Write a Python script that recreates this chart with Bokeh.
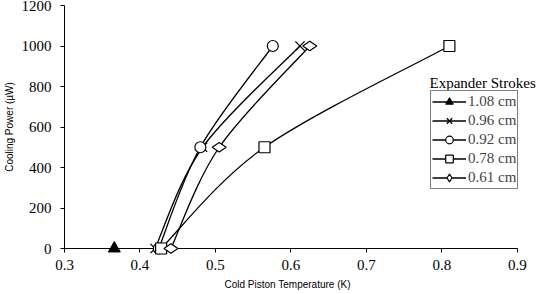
from bokeh.plotting import figure
from bokeh.models import ColumnDataSource, Legend, LegendItem, Label, FixedTicker, Title
from bokeh.embed import file_html
from bokeh.resources import INLINE

# ---- data ----
labels = ["1.08 cm", "0.96 cm", "0.92 cm", "0.78 cm", "0.61 cm"]
temp_108 = [0.366]
power_108 = [0]
temp_096 = [0.420, 0.483, 0.612]
power_096 = [0, 500, 1000]
temp_092 = [0.425, 0.480, 0.576]
power_092 = [0, 500, 1000]
temp_078 = [0.428, 0.565, 0.810]
power_078 = [0, 500, 1000]
temp_061 = [0.441, 0.505, 0.625]
power_061 = [0, 500, 1000]
x_ticks = [0.3, 0.4, 0.5, 0.6, 0.7, 0.8, 0.9]
y_ticks = [0, 200, 400, 600, 800, 1000, 1200]

series = [
    (labels[0], temp_108, power_108, "triangle"),
    (labels[1], temp_096, power_096, "x"),
    (labels[2], temp_092, power_092, "circle"),
    (labels[3], temp_078, power_078, "square"),
    (labels[4], temp_061, power_061, "diamond"),
]

SERIF = "Liberation Serif"
SANS = "Liberation Sans"

# frame extends past the axis end (0.9) so the legend box is not clipped
x_end = 0.9 + 30 / 750.0

p = figure(width=551, height=294, output_backend="svg", toolbar_location=None,
           x_range=(0.3, x_end), y_range=(0, 1200),
           min_border_left=64, min_border_right=4, min_border_top=5, min_border_bottom=45)
p.outline_line_color = None
p.xgrid.visible = False
p.ygrid.visible = False
p.background_fill_color = "white"

for ax in (p.xaxis[0], p.yaxis[0]):
    ax.axis_line_color = "black"
    ax.major_tick_line_color = "black"
    ax.minor_tick_line_color = None
    ax.major_tick_in = 0
    ax.major_tick_out = 4
    ax.major_label_text_font = SERIF
    ax.major_label_text_font_size = "15px"
    ax.major_label_text_color = "black"
    ax.axis_label_text_font = SANS
    ax.axis_label_text_font_size = "10px"
    ax.axis_label_text_font_style = "normal"
    ax.axis_label_text_color = "black"

p.xaxis.ticker = FixedTicker(ticks=x_ticks)
p.yaxis.ticker = FixedTicker(ticks=y_ticks)
p.xaxis.bounds = (0.3, 0.9)
p.xaxis.major_label_standoff = 7
p.yaxis.major_label_standoff = 9
p.yaxis.axis_label = "Cooling Power (µW)"
p.yaxis.axis_label_standoff = 4

xtitle = Title(text="Cold Piston Temperature (K)", align="left", offset=160,
               text_font=SANS, text_font_size="10px", text_font_style="normal",
               text_color="black", standoff=9)
p.add_layout(xtitle, "below")


def bezier_segments(xs, ys, k=1.0 / 6.0):
    x0, y0, x1, y1, cx0, cy0, cx1, cy1 = [], [], [], [], [], [], [], []
    n = len(xs)
    for i in range(n - 1):
        xp, yp = (xs[i - 1], ys[i - 1]) if i > 0 else (xs[i], ys[i])
        xn, yn = (xs[i + 2], ys[i + 2]) if i + 2 < n else (xs[i + 1], ys[i + 1])
        x0.append(xs[i]); y0.append(ys[i])
        x1.append(xs[i + 1]); y1.append(ys[i + 1])
        cx0.append(xs[i] + (xs[i + 1] - xp) * k)
        cy0.append(ys[i] + (ys[i + 1] - yp) * k)
        cx1.append(xs[i + 1] - (xn - xs[i]) * k)
        cy1.append(ys[i + 1] - (yn - ys[i]) * k)
    return dict(x0=x0, y0=y0, x1=x1, y1=y1, cx0=cx0, cy0=cy0, cx1=cx1, cy1=cy1)


nan = float("nan")
items = []
for lab, xs, ys, marker in series:
    if len(xs) > 1:
        src = ColumnDataSource(bezier_segments(xs, ys))
        p.bezier(x0="x0", y0="y0", x1="x1", y1="y1", cx0="cx0", cy0="cy0",
                 cx1="cx1", cy1="cy1", source=src, line_color="black", line_width=1.3,
                 level="overlay")
    leg_line = p.line(x=[nan, nan], y=[nan, nan], line_color="black", line_width=1.3)
    if marker == "triangle":
        sc = p.scatter(xs, ys, marker="triangle", size=12, fill_color="black", line_color="black")
    elif marker == "x":
        sc = p.scatter(xs, ys, marker="x", size=13, line_color="black", line_width=1.3)
    elif marker == "circle":
        sc = p.scatter(xs, ys, marker="circle", size=11, fill_color="white", line_color="black", line_width=1.2)
    elif marker == "square":
        sc = p.scatter(xs, ys, marker="square", size=11, fill_color="white", line_color="black", line_width=1.2)
    else:
        sc = p.scatter(xs, ys, marker="diamond", size=14, angle=1.5708, fill_color="white",
                       line_color="black", line_width=1.2)
    sc.level = "overlay"
    items.append(LegendItem(label=lab, renderers=[leg_line, sc]))

legend = Legend(items=items, location=(366, 59), margin=0, padding=1, spacing=0,
                label_height=19, glyph_height=19, glyph_width=34, label_standoff=2,
                label_text_font=SERIF, label_text_font_size="15px",
                border_line_color="black", border_line_width=1,
                background_fill_color="white", background_fill_alpha=1)
p.add_layout(legend, "center")

title = Label(x=365, y=166, x_units="screen", y_units="screen", text="Expander Strokes",
              text_font=SERIF, text_font_size="15px", text_baseline="middle", text_color="black")
p.add_layout(title)

open("out.html", "w").write(file_html(p, INLINE))
